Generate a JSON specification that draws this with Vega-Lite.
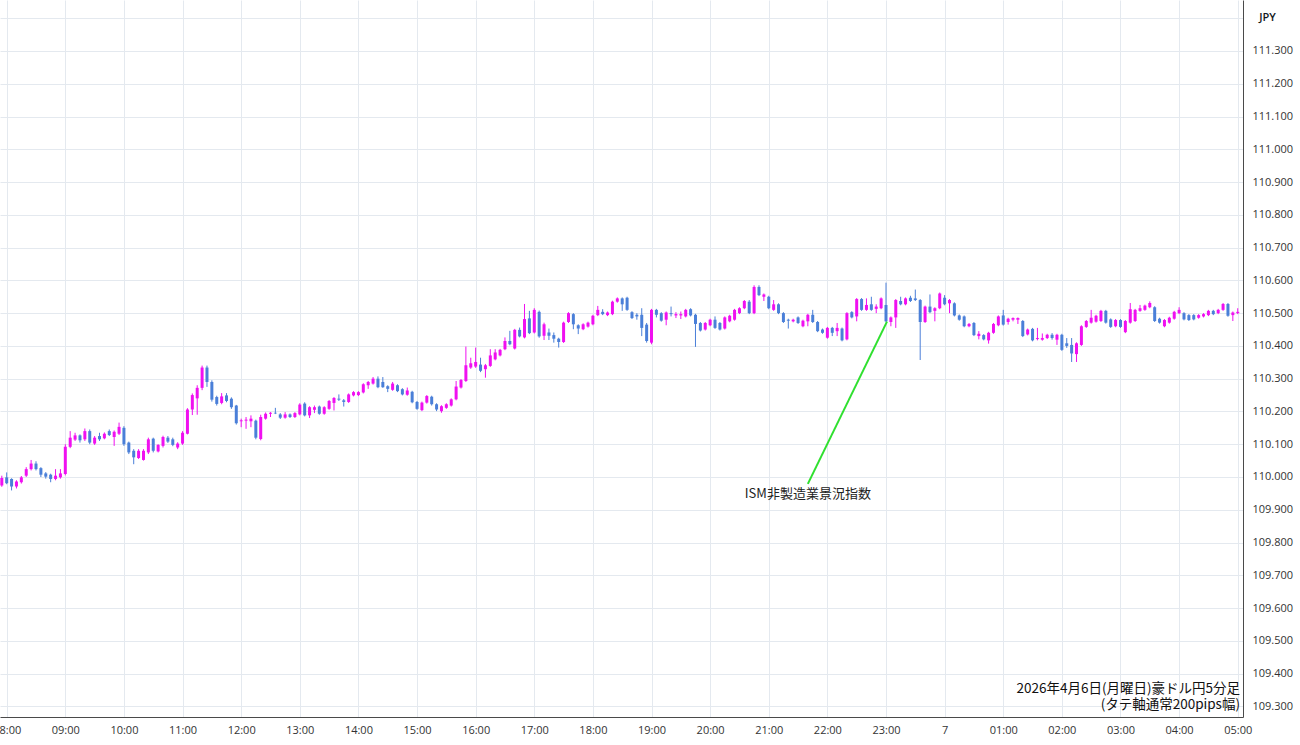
{
"$schema": "https://vega.github.io/schema/vega-lite/v6.json",
"width": 1243, "height": 717,
"autosize": {"type": "none"},
"padding": {"left": 0, "top": 0, "right": 57, "bottom": 28},
"background": "white",
"config": {
  "view": {"stroke": null},
  "axis": {"gridColor": "#e4e9ef", "gridWidth": 1, "domainColor": "#4a4a4a", "domainWidth": 1, "ticks": false, "labelFont": "Open Sans", "labelFontSize": 11, "labelColor": "#333333", "labelFlush": false, "labelOverlap": false}
},
"data": {"values": [
{"t":"2026-04-06T07:55","o":109.974,"h":110.004,"l":109.970,"c":109.997},
{"t":"2026-04-06T08:00","o":109.999,"h":110.014,"l":109.978,"c":109.981},
{"t":"2026-04-06T08:05","o":109.994,"h":109.996,"l":109.959,"c":109.971},
{"t":"2026-04-06T08:10","o":109.971,"h":109.990,"l":109.965,"c":109.986},
{"t":"2026-04-06T08:15","o":109.984,"h":110.003,"l":109.980,"c":109.999},
{"t":"2026-04-06T08:20","o":110.004,"h":110.030,"l":110.000,"c":110.024},
{"t":"2026-04-06T08:25","o":110.024,"h":110.052,"l":110.020,"c":110.041},
{"t":"2026-04-06T08:30","o":110.041,"h":110.048,"l":110.020,"c":110.024},
{"t":"2026-04-06T08:35","o":110.027,"h":110.030,"l":110.000,"c":110.007},
{"t":"2026-04-06T08:40","o":110.011,"h":110.015,"l":109.995,"c":110.001},
{"t":"2026-04-06T08:45","o":110.007,"h":110.010,"l":109.984,"c":109.994},
{"t":"2026-04-06T08:50","o":109.994,"h":110.024,"l":109.990,"c":110.004},
{"t":"2026-04-06T08:55","o":109.999,"h":110.024,"l":109.995,"c":110.011},
{"t":"2026-04-06T09:00","o":110.009,"h":110.100,"l":110.005,"c":110.092},
{"t":"2026-04-06T09:05","o":110.092,"h":110.140,"l":110.088,"c":110.120},
{"t":"2026-04-06T09:10","o":110.114,"h":110.135,"l":110.110,"c":110.127},
{"t":"2026-04-06T09:15","o":110.127,"h":110.130,"l":110.105,"c":110.112},
{"t":"2026-04-06T09:20","o":110.115,"h":110.148,"l":110.110,"c":110.140},
{"t":"2026-04-06T09:25","o":110.140,"h":110.145,"l":110.100,"c":110.105},
{"t":"2026-04-06T09:30","o":110.102,"h":110.125,"l":110.098,"c":110.120},
{"t":"2026-04-06T09:35","o":110.125,"h":110.135,"l":110.110,"c":110.115},
{"t":"2026-04-06T09:40","o":110.118,"h":110.136,"l":110.115,"c":110.132},
{"t":"2026-04-06T09:45","o":110.140,"h":110.145,"l":110.125,"c":110.128},
{"t":"2026-04-06T09:50","o":110.122,"h":110.142,"l":110.095,"c":110.138},
{"t":"2026-04-06T09:55","o":110.132,"h":110.166,"l":110.128,"c":110.153},
{"t":"2026-04-06T10:00","o":110.150,"h":110.155,"l":110.095,"c":110.100},
{"t":"2026-04-06T10:05","o":110.105,"h":110.108,"l":110.070,"c":110.075},
{"t":"2026-04-06T10:10","o":110.080,"h":110.085,"l":110.039,"c":110.060},
{"t":"2026-04-06T10:15","o":110.058,"h":110.085,"l":110.055,"c":110.080},
{"t":"2026-04-06T10:20","o":110.052,"h":110.085,"l":110.050,"c":110.080},
{"t":"2026-04-06T10:25","o":110.075,"h":110.120,"l":110.070,"c":110.115},
{"t":"2026-04-06T10:30","o":110.117,"h":110.120,"l":110.075,"c":110.080},
{"t":"2026-04-06T10:35","o":110.078,"h":110.100,"l":110.075,"c":110.098},
{"t":"2026-04-06T10:40","o":110.095,"h":110.126,"l":110.090,"c":110.122},
{"t":"2026-04-06T10:45","o":110.120,"h":110.125,"l":110.104,"c":110.108},
{"t":"2026-04-06T10:50","o":110.115,"h":110.120,"l":110.094,"c":110.098},
{"t":"2026-04-06T10:55","o":110.090,"h":110.106,"l":110.085,"c":110.102},
{"t":"2026-04-06T11:00","o":110.102,"h":110.140,"l":110.098,"c":110.135},
{"t":"2026-04-06T11:05","o":110.132,"h":110.210,"l":110.130,"c":110.206},
{"t":"2026-04-06T11:10","o":110.206,"h":110.255,"l":110.189,"c":110.250},
{"t":"2026-04-06T11:15","o":110.240,"h":110.280,"l":110.190,"c":110.272},
{"t":"2026-04-06T11:20","o":110.272,"h":110.340,"l":110.265,"c":110.334},
{"t":"2026-04-06T11:25","o":110.334,"h":110.340,"l":110.275,"c":110.290},
{"t":"2026-04-06T11:30","o":110.290,"h":110.295,"l":110.230,"c":110.236},
{"t":"2026-04-06T11:35","o":110.244,"h":110.248,"l":110.218,"c":110.223},
{"t":"2026-04-06T11:40","o":110.226,"h":110.256,"l":110.222,"c":110.246},
{"t":"2026-04-06T11:45","o":110.249,"h":110.256,"l":110.228,"c":110.232},
{"t":"2026-04-06T11:50","o":110.239,"h":110.243,"l":110.208,"c":110.213},
{"t":"2026-04-06T11:55","o":110.218,"h":110.220,"l":110.160,"c":110.164},
{"t":"2026-04-06T12:00","o":110.170,"h":110.178,"l":110.152,"c":110.173},
{"t":"2026-04-06T12:05","o":110.172,"h":110.183,"l":110.147,"c":110.175},
{"t":"2026-04-06T12:10","o":110.170,"h":110.188,"l":110.152,"c":110.178},
{"t":"2026-04-06T12:15","o":110.172,"h":110.175,"l":110.115,"c":110.120},
{"t":"2026-04-06T12:20","o":110.116,"h":110.190,"l":110.112,"c":110.183},
{"t":"2026-04-06T12:25","o":110.178,"h":110.197,"l":110.175,"c":110.193},
{"t":"2026-04-06T12:30","o":110.193,"h":110.198,"l":110.183,"c":110.196},
{"t":"2026-04-06T12:35","o":110.196,"h":110.211,"l":110.192,"c":110.194},
{"t":"2026-04-06T12:40","o":110.191,"h":110.195,"l":110.177,"c":110.181},
{"t":"2026-04-06T12:45","o":110.181,"h":110.198,"l":110.178,"c":110.191},
{"t":"2026-04-06T12:50","o":110.191,"h":110.194,"l":110.180,"c":110.183},
{"t":"2026-04-06T12:55","o":110.183,"h":110.198,"l":110.180,"c":110.195},
{"t":"2026-04-06T13:00","o":110.191,"h":110.225,"l":110.188,"c":110.221},
{"t":"2026-04-06T13:05","o":110.224,"h":110.228,"l":110.185,"c":110.188},
{"t":"2026-04-06T13:10","o":110.188,"h":110.216,"l":110.180,"c":110.213},
{"t":"2026-04-06T13:15","o":110.205,"h":110.218,"l":110.195,"c":110.213},
{"t":"2026-04-06T13:20","o":110.215,"h":110.218,"l":110.190,"c":110.193},
{"t":"2026-04-06T13:25","o":110.193,"h":110.216,"l":110.190,"c":110.213},
{"t":"2026-04-06T13:30","o":110.208,"h":110.235,"l":110.205,"c":110.232},
{"t":"2026-04-06T13:35","o":110.226,"h":110.244,"l":110.203,"c":110.241},
{"t":"2026-04-06T13:40","o":110.239,"h":110.252,"l":110.232,"c":110.236},
{"t":"2026-04-06T13:45","o":110.234,"h":110.238,"l":110.215,"c":110.229},
{"t":"2026-04-06T13:50","o":110.229,"h":110.255,"l":110.226,"c":110.252},
{"t":"2026-04-06T13:55","o":110.249,"h":110.262,"l":110.246,"c":110.259},
{"t":"2026-04-06T14:00","o":110.250,"h":110.262,"l":110.247,"c":110.259},
{"t":"2026-04-06T14:05","o":110.258,"h":110.286,"l":110.255,"c":110.283},
{"t":"2026-04-06T14:10","o":110.280,"h":110.293,"l":110.269,"c":110.290},
{"t":"2026-04-06T14:15","o":110.285,"h":110.305,"l":110.282,"c":110.300},
{"t":"2026-04-06T14:20","o":110.300,"h":110.307,"l":110.271,"c":110.274},
{"t":"2026-04-06T14:25","o":110.290,"h":110.305,"l":110.272,"c":110.274},
{"t":"2026-04-06T14:30","o":110.277,"h":110.280,"l":110.259,"c":110.269},
{"t":"2026-04-06T14:35","o":110.266,"h":110.290,"l":110.263,"c":110.285},
{"t":"2026-04-06T14:40","o":110.280,"h":110.283,"l":110.259,"c":110.262},
{"t":"2026-04-06T14:45","o":110.268,"h":110.271,"l":110.249,"c":110.252},
{"t":"2026-04-06T14:50","o":110.251,"h":110.273,"l":110.248,"c":110.264},
{"t":"2026-04-06T14:55","o":110.260,"h":110.263,"l":110.225,"c":110.228},
{"t":"2026-04-06T15:00","o":110.229,"h":110.232,"l":110.205,"c":110.208},
{"t":"2026-04-06T15:05","o":110.204,"h":110.230,"l":110.201,"c":110.227},
{"t":"2026-04-06T15:10","o":110.227,"h":110.250,"l":110.224,"c":110.247},
{"t":"2026-04-06T15:15","o":110.245,"h":110.248,"l":110.218,"c":110.222},
{"t":"2026-04-06T15:20","o":110.222,"h":110.225,"l":110.201,"c":110.206},
{"t":"2026-04-06T15:25","o":110.201,"h":110.219,"l":110.196,"c":110.216},
{"t":"2026-04-06T15:30","o":110.211,"h":110.225,"l":110.208,"c":110.222},
{"t":"2026-04-06T15:35","o":110.218,"h":110.240,"l":110.215,"c":110.237},
{"t":"2026-04-06T15:40","o":110.237,"h":110.293,"l":110.234,"c":110.276},
{"t":"2026-04-06T15:45","o":110.273,"h":110.299,"l":110.270,"c":110.296},
{"t":"2026-04-06T15:50","o":110.293,"h":110.398,"l":110.290,"c":110.341},
{"t":"2026-04-06T15:55","o":110.334,"h":110.364,"l":110.330,"c":110.347},
{"t":"2026-04-06T16:00","o":110.337,"h":110.395,"l":110.333,"c":110.351},
{"t":"2026-04-06T16:05","o":110.343,"h":110.364,"l":110.320,"c":110.324},
{"t":"2026-04-06T16:10","o":110.329,"h":110.345,"l":110.303,"c":110.341},
{"t":"2026-04-06T16:15","o":110.339,"h":110.390,"l":110.336,"c":110.371},
{"t":"2026-04-06T16:20","o":110.359,"h":110.390,"l":110.356,"c":110.380},
{"t":"2026-04-06T16:25","o":110.371,"h":110.391,"l":110.368,"c":110.388},
{"t":"2026-04-06T16:30","o":110.390,"h":110.426,"l":110.387,"c":110.415},
{"t":"2026-04-06T16:35","o":110.415,"h":110.446,"l":110.402,"c":110.405},
{"t":"2026-04-06T16:40","o":110.392,"h":110.452,"l":110.389,"c":110.449},
{"t":"2026-04-06T16:45","o":110.449,"h":110.456,"l":110.426,"c":110.429},
{"t":"2026-04-06T16:50","o":110.426,"h":110.528,"l":110.423,"c":110.482},
{"t":"2026-04-06T16:55","o":110.484,"h":110.507,"l":110.436,"c":110.439},
{"t":"2026-04-06T17:00","o":110.441,"h":110.515,"l":110.438,"c":110.510},
{"t":"2026-04-06T17:05","o":110.504,"h":110.508,"l":110.425,"c":110.429},
{"t":"2026-04-06T17:10","o":110.431,"h":110.471,"l":110.418,"c":110.466},
{"t":"2026-04-06T17:15","o":110.441,"h":110.453,"l":110.418,"c":110.431},
{"t":"2026-04-06T17:20","o":110.433,"h":110.441,"l":110.410,"c":110.422},
{"t":"2026-04-06T17:25","o":110.422,"h":110.425,"l":110.395,"c":110.412},
{"t":"2026-04-06T17:30","o":110.412,"h":110.474,"l":110.409,"c":110.471},
{"t":"2026-04-06T17:35","o":110.473,"h":110.503,"l":110.470,"c":110.500},
{"t":"2026-04-06T17:40","o":110.497,"h":110.500,"l":110.451,"c":110.466},
{"t":"2026-04-06T17:45","o":110.463,"h":110.466,"l":110.436,"c":110.453},
{"t":"2026-04-06T17:50","o":110.451,"h":110.469,"l":110.448,"c":110.466},
{"t":"2026-04-06T17:55","o":110.459,"h":110.474,"l":110.456,"c":110.471},
{"t":"2026-04-06T18:00","o":110.466,"h":110.495,"l":110.463,"c":110.492},
{"t":"2026-04-06T18:05","o":110.494,"h":110.522,"l":110.491,"c":110.510},
{"t":"2026-04-06T18:10","o":110.504,"h":110.512,"l":110.494,"c":110.497},
{"t":"2026-04-06T18:15","o":110.494,"h":110.505,"l":110.491,"c":110.502},
{"t":"2026-04-06T18:20","o":110.497,"h":110.538,"l":110.494,"c":110.535},
{"t":"2026-04-06T18:25","o":110.535,"h":110.548,"l":110.532,"c":110.545},
{"t":"2026-04-06T18:30","o":110.545,"h":110.548,"l":110.507,"c":110.527},
{"t":"2026-04-06T18:35","o":110.547,"h":110.550,"l":110.507,"c":110.510},
{"t":"2026-04-06T18:40","o":110.503,"h":110.506,"l":110.482,"c":110.485},
{"t":"2026-04-06T18:45","o":110.495,"h":110.500,"l":110.480,"c":110.490},
{"t":"2026-04-06T18:50","o":110.495,"h":110.515,"l":110.430,"c":110.455},
{"t":"2026-04-06T18:55","o":110.465,"h":110.470,"l":110.410,"c":110.415},
{"t":"2026-04-06T19:00","o":110.410,"h":110.513,"l":110.405,"c":110.510},
{"t":"2026-04-06T19:05","o":110.510,"h":110.513,"l":110.487,"c":110.495},
{"t":"2026-04-06T19:10","o":110.500,"h":110.503,"l":110.474,"c":110.477},
{"t":"2026-04-06T19:15","o":110.480,"h":110.505,"l":110.463,"c":110.502},
{"t":"2026-04-06T19:20","o":110.500,"h":110.520,"l":110.490,"c":110.497},
{"t":"2026-04-06T19:25","o":110.493,"h":110.503,"l":110.485,"c":110.497},
{"t":"2026-04-06T19:30","o":110.493,"h":110.505,"l":110.482,"c":110.497},
{"t":"2026-04-06T19:35","o":110.490,"h":110.513,"l":110.487,"c":110.510},
{"t":"2026-04-06T19:40","o":110.512,"h":110.515,"l":110.490,"c":110.493},
{"t":"2026-04-06T19:45","o":110.495,"h":110.498,"l":110.397,"c":110.467},
{"t":"2026-04-06T19:50","o":110.470,"h":110.473,"l":110.444,"c":110.447},
{"t":"2026-04-06T19:55","o":110.450,"h":110.473,"l":110.447,"c":110.470},
{"t":"2026-04-06T20:00","o":110.463,"h":110.483,"l":110.460,"c":110.480},
{"t":"2026-04-06T20:05","o":110.480,"h":110.490,"l":110.452,"c":110.455},
{"t":"2026-04-06T20:10","o":110.470,"h":110.473,"l":110.447,"c":110.450},
{"t":"2026-04-06T20:15","o":110.453,"h":110.490,"l":110.450,"c":110.487},
{"t":"2026-04-06T20:20","o":110.475,"h":110.495,"l":110.472,"c":110.492},
{"t":"2026-04-06T20:25","o":110.480,"h":110.513,"l":110.477,"c":110.510},
{"t":"2026-04-06T20:30","o":110.500,"h":110.518,"l":110.497,"c":110.515},
{"t":"2026-04-06T20:35","o":110.515,"h":110.540,"l":110.512,"c":110.537},
{"t":"2026-04-06T20:40","o":110.535,"h":110.540,"l":110.497,"c":110.500},
{"t":"2026-04-06T20:45","o":110.500,"h":110.585,"l":110.497,"c":110.580},
{"t":"2026-04-06T20:50","o":110.580,"h":110.585,"l":110.552,"c":110.555},
{"t":"2026-04-06T20:55","o":110.550,"h":110.560,"l":110.537,"c":110.557},
{"t":"2026-04-06T21:00","o":110.550,"h":110.553,"l":110.512,"c":110.515},
{"t":"2026-04-06T21:05","o":110.510,"h":110.540,"l":110.507,"c":110.527},
{"t":"2026-04-06T21:10","o":110.527,"h":110.530,"l":110.497,"c":110.500},
{"t":"2026-04-06T21:15","o":110.500,"h":110.503,"l":110.470,"c":110.473},
{"t":"2026-04-06T21:20","o":110.480,"h":110.483,"l":110.453,"c":110.477},
{"t":"2026-04-06T21:25","o":110.475,"h":110.483,"l":110.472,"c":110.480},
{"t":"2026-04-06T21:30","o":110.487,"h":110.490,"l":110.467,"c":110.470},
{"t":"2026-04-06T21:35","o":110.460,"h":110.480,"l":110.457,"c":110.477},
{"t":"2026-04-06T21:40","o":110.475,"h":110.498,"l":110.460,"c":110.495},
{"t":"2026-04-06T21:45","o":110.495,"h":110.510,"l":110.470,"c":110.473},
{"t":"2026-04-06T21:50","o":110.473,"h":110.476,"l":110.442,"c":110.445},
{"t":"2026-04-06T21:55","o":110.450,"h":110.453,"l":110.437,"c":110.440},
{"t":"2026-04-06T22:00","o":110.425,"h":110.458,"l":110.422,"c":110.455},
{"t":"2026-04-06T22:05","o":110.455,"h":110.458,"l":110.430,"c":110.440},
{"t":"2026-04-06T22:10","o":110.445,"h":110.470,"l":110.430,"c":110.455},
{"t":"2026-04-06T22:15","o":110.453,"h":110.456,"l":110.414,"c":110.417},
{"t":"2026-04-06T22:20","o":110.420,"h":110.503,"l":110.417,"c":110.500},
{"t":"2026-04-06T22:25","o":110.503,"h":110.506,"l":110.484,"c":110.487},
{"t":"2026-04-06T22:30","o":110.490,"h":110.546,"l":110.475,"c":110.543},
{"t":"2026-04-06T22:35","o":110.543,"h":110.546,"l":110.507,"c":110.510},
{"t":"2026-04-06T22:40","o":110.510,"h":110.545,"l":110.507,"c":110.525},
{"t":"2026-04-06T22:45","o":110.527,"h":110.550,"l":110.507,"c":110.510},
{"t":"2026-04-06T22:50","o":110.513,"h":110.527,"l":110.500,"c":110.520},
{"t":"2026-04-06T22:55","o":110.515,"h":110.548,"l":110.512,"c":110.545},
{"t":"2026-04-06T23:00","o":110.525,"h":110.593,"l":110.472,"c":110.475},
{"t":"2026-04-06T23:05","o":110.473,"h":110.490,"l":110.460,"c":110.487},
{"t":"2026-04-06T23:10","o":110.487,"h":110.543,"l":110.455,"c":110.540},
{"t":"2026-04-06T23:15","o":110.537,"h":110.550,"l":110.524,"c":110.527},
{"t":"2026-04-06T23:20","o":110.527,"h":110.548,"l":110.524,"c":110.545},
{"t":"2026-04-06T23:25","o":110.547,"h":110.553,"l":110.534,"c":110.537},
{"t":"2026-04-06T23:30","o":110.545,"h":110.572,"l":110.537,"c":110.540},
{"t":"2026-04-06T23:35","o":110.540,"h":110.543,"l":110.357,"c":110.473},
{"t":"2026-04-06T23:40","o":110.473,"h":110.523,"l":110.470,"c":110.520},
{"t":"2026-04-06T23:45","o":110.520,"h":110.557,"l":110.500,"c":110.503},
{"t":"2026-04-06T23:50","o":110.507,"h":110.518,"l":110.475,"c":110.515},
{"t":"2026-04-06T23:55","o":110.515,"h":110.563,"l":110.512,"c":110.560},
{"t":"2026-04-07T00:00","o":110.547,"h":110.555,"l":110.524,"c":110.527},
{"t":"2026-04-07T00:05","o":110.530,"h":110.543,"l":110.500,"c":110.540},
{"t":"2026-04-07T00:10","o":110.530,"h":110.533,"l":110.490,"c":110.493},
{"t":"2026-04-07T00:15","o":110.493,"h":110.496,"l":110.477,"c":110.480},
{"t":"2026-04-07T00:20","o":110.490,"h":110.493,"l":110.457,"c":110.460},
{"t":"2026-04-07T00:25","o":110.460,"h":110.470,"l":110.457,"c":110.467},
{"t":"2026-04-07T00:30","o":110.470,"h":110.473,"l":110.430,"c":110.433},
{"t":"2026-04-07T00:35","o":110.430,"h":110.445,"l":110.420,"c":110.437},
{"t":"2026-04-07T00:40","o":110.433,"h":110.436,"l":110.417,"c":110.420},
{"t":"2026-04-07T00:45","o":110.417,"h":110.443,"l":110.407,"c":110.440},
{"t":"2026-04-07T00:50","o":110.440,"h":110.470,"l":110.437,"c":110.467},
{"t":"2026-04-07T00:55","o":110.463,"h":110.493,"l":110.460,"c":110.490},
{"t":"2026-04-07T01:00","o":110.493,"h":110.510,"l":110.462,"c":110.465},
{"t":"2026-04-07T01:05","o":110.473,"h":110.486,"l":110.465,"c":110.483},
{"t":"2026-04-07T01:10","o":110.480,"h":110.487,"l":110.475,"c":110.485},
{"t":"2026-04-07T01:15","o":110.480,"h":110.487,"l":110.467,"c":110.485},
{"t":"2026-04-07T01:20","o":110.476,"h":110.479,"l":110.427,"c":110.430},
{"t":"2026-04-07T01:25","o":110.435,"h":110.453,"l":110.432,"c":110.450},
{"t":"2026-04-07T01:30","o":110.452,"h":110.455,"l":110.414,"c":110.417},
{"t":"2026-04-07T01:35","o":110.421,"h":110.455,"l":110.417,"c":110.424},
{"t":"2026-04-07T01:40","o":110.419,"h":110.438,"l":110.416,"c":110.424},
{"t":"2026-04-07T01:45","o":110.424,"h":110.437,"l":110.421,"c":110.434},
{"t":"2026-04-07T01:50","o":110.434,"h":110.439,"l":110.419,"c":110.424},
{"t":"2026-04-07T01:55","o":110.419,"h":110.437,"l":110.403,"c":110.434},
{"t":"2026-04-07T02:00","o":110.434,"h":110.437,"l":110.385,"c":110.388},
{"t":"2026-04-07T02:05","o":110.408,"h":110.424,"l":110.394,"c":110.400},
{"t":"2026-04-07T02:10","o":110.403,"h":110.424,"l":110.351,"c":110.377},
{"t":"2026-04-07T02:15","o":110.375,"h":110.411,"l":110.351,"c":110.408},
{"t":"2026-04-07T02:20","o":110.403,"h":110.463,"l":110.400,"c":110.460},
{"t":"2026-04-07T02:25","o":110.458,"h":110.479,"l":110.455,"c":110.476},
{"t":"2026-04-07T02:30","o":110.471,"h":110.510,"l":110.468,"c":110.486},
{"t":"2026-04-07T02:35","o":110.474,"h":110.495,"l":110.471,"c":110.492},
{"t":"2026-04-07T02:40","o":110.476,"h":110.510,"l":110.473,"c":110.507},
{"t":"2026-04-07T02:45","o":110.507,"h":110.510,"l":110.468,"c":110.471},
{"t":"2026-04-07T02:50","o":110.481,"h":110.484,"l":110.455,"c":110.458},
{"t":"2026-04-07T02:55","o":110.460,"h":110.482,"l":110.457,"c":110.479},
{"t":"2026-04-07T03:00","o":110.479,"h":110.482,"l":110.455,"c":110.458},
{"t":"2026-04-07T03:05","o":110.442,"h":110.479,"l":110.439,"c":110.476},
{"t":"2026-04-07T03:10","o":110.471,"h":110.531,"l":110.468,"c":110.512},
{"t":"2026-04-07T03:15","o":110.476,"h":110.513,"l":110.473,"c":110.510},
{"t":"2026-04-07T03:20","o":110.507,"h":110.525,"l":110.504,"c":110.515},
{"t":"2026-04-07T03:25","o":110.510,"h":110.526,"l":110.507,"c":110.523},
{"t":"2026-04-07T03:30","o":110.518,"h":110.536,"l":110.515,"c":110.531},
{"t":"2026-04-07T03:35","o":110.518,"h":110.521,"l":110.473,"c":110.476},
{"t":"2026-04-07T03:40","o":110.483,"h":110.486,"l":110.468,"c":110.471},
{"t":"2026-04-07T03:45","o":110.460,"h":110.482,"l":110.457,"c":110.479},
{"t":"2026-04-07T03:50","o":110.471,"h":110.489,"l":110.468,"c":110.486},
{"t":"2026-04-07T03:55","o":110.483,"h":110.507,"l":110.480,"c":110.504},
{"t":"2026-04-07T04:00","o":110.500,"h":110.518,"l":110.497,"c":110.510},
{"t":"2026-04-07T04:05","o":110.500,"h":110.503,"l":110.478,"c":110.481},
{"t":"2026-04-07T04:10","o":110.494,"h":110.497,"l":110.476,"c":110.479},
{"t":"2026-04-07T04:15","o":110.494,"h":110.497,"l":110.478,"c":110.481},
{"t":"2026-04-07T04:20","o":110.486,"h":110.497,"l":110.483,"c":110.494},
{"t":"2026-04-07T04:25","o":110.490,"h":110.500,"l":110.487,"c":110.497},
{"t":"2026-04-07T04:30","o":110.494,"h":110.510,"l":110.491,"c":110.507},
{"t":"2026-04-07T04:35","o":110.507,"h":110.510,"l":110.494,"c":110.497},
{"t":"2026-04-07T04:40","o":110.500,"h":110.513,"l":110.497,"c":110.510},
{"t":"2026-04-07T04:45","o":110.510,"h":110.531,"l":110.507,"c":110.528},
{"t":"2026-04-07T04:50","o":110.528,"h":110.531,"l":110.489,"c":110.492},
{"t":"2026-04-07T04:55","o":110.494,"h":110.505,"l":110.476,"c":110.502},
{"t":"2026-04-07T05:00","o":110.500,"h":110.515,"l":110.497,"c":110.504}
]},
"layer": [
  {
    "mark": {"type": "rule", "strokeWidth": 1},
    "encoding": {
      "x": {"field": "t", "type": "temporal",
        "scale": {"domain": [{"year": 2026, "month": 4, "date": 6, "hours": 7, "minutes": 53, "seconds": 9}, {"year": 2026, "month": 4, "date": 7, "hours": 5, "minutes": 5, "seconds": 24}], "nice": false, "padding": 0},
        "axis": {"orient": "bottom", "title": null, "labelPadding": 7, "grid": true, "labelOverlap": false, "labelFlush": false, "tickCount": 40,
          "values": [
            {"year": 2026, "month": 4, "date": 6, "hours": 8},
            {"year": 2026, "month": 4, "date": 6, "hours": 9},
            {"year": 2026, "month": 4, "date": 6, "hours": 10},
            {"year": 2026, "month": 4, "date": 6, "hours": 11},
            {"year": 2026, "month": 4, "date": 6, "hours": 12},
            {"year": 2026, "month": 4, "date": 6, "hours": 13},
            {"year": 2026, "month": 4, "date": 6, "hours": 14},
            {"year": 2026, "month": 4, "date": 6, "hours": 15},
            {"year": 2026, "month": 4, "date": 6, "hours": 16},
            {"year": 2026, "month": 4, "date": 6, "hours": 17},
            {"year": 2026, "month": 4, "date": 6, "hours": 18},
            {"year": 2026, "month": 4, "date": 6, "hours": 19},
            {"year": 2026, "month": 4, "date": 6, "hours": 20},
            {"year": 2026, "month": 4, "date": 6, "hours": 21},
            {"year": 2026, "month": 4, "date": 6, "hours": 22},
            {"year": 2026, "month": 4, "date": 6, "hours": 23},
            {"year": 2026, "month": 4, "date": 7, "hours": 0},
            {"year": 2026, "month": 4, "date": 7, "hours": 1},
            {"year": 2026, "month": 4, "date": 7, "hours": 2},
            {"year": 2026, "month": 4, "date": 7, "hours": 3},
            {"year": 2026, "month": 4, "date": 7, "hours": 4},
            {"year": 2026, "month": 4, "date": 7, "hours": 5}
          ],
          "labelExpr": "hours(datum.value) == 0 ? '7' : timeFormat(datum.value, '%H:%M')"}},
      "y": {"field": "l", "type": "quantitative",
        "scale": {"domain": [109.2676, 111.4556], "nice": false, "zero": false, "padding": 0},
        "axis": {"orient": "right", "grid": true, "labelPadding": 9, "labelOverlap": false, "labelFlush": false, "tickCount": 40,
          "values": [109.3, 109.4, 109.5, 109.6, 109.7, 109.8, 109.9, 110.0, 110.1, 110.2, 110.3, 110.4, 110.5, 110.6, 110.7, 110.8, 110.9, 111.0, 111.1, 111.2, 111.3, 111.4],
          "labelExpr": "datum.value > 111.35 ? '' : format(datum.value, '.3f')",
          "title": "JPY", "titleAngle": 0, "titleX": 24, "titleY": 17, "titleAlign": "center", "titleBaseline": "middle",
          "titleFont": "Open Sans", "titleFontSize": 11, "titleFontWeight": 600, "titleColor": "#131722"}},
      "y2": {"field": "h"},
      "color": {"condition": {"test": "datum.c >= datum.o", "value": "#f010f0"}, "value": "#4a7fd8"}
    }
  },
  {
    "mark": {"type": "bar", "size": 3},
    "encoding": {
      "x": {"field": "t", "type": "temporal"},
      "y": {"field": "o", "type": "quantitative"},
      "y2": {"field": "c"},
      "color": {"condition": {"test": "datum.c >= datum.o", "value": "#f010f0"}, "value": "#4a7fd8"}
    }
  },
  {
    "data": {"values": [{}]},
    "mark": {"type": "rule", "color": "#2fe02f", "strokeWidth": 2},
    "encoding": {
      "x": {"datum": {"year": 2026, "month": 4, "date": 6, "hours": 21, "minutes": 40}, "type": "temporal"},
      "y": {"datum": 109.979, "type": "quantitative"},
      "x2": {"datum": {"year": 2026, "month": 4, "date": 6, "hours": 23, "minutes": 1}},
      "y2": {"datum": 110.474}
    }
  },
  {
    "data": {"values": [{}]},
    "mark": {"type": "text", "text": "ISM非製造業景況指数", "font": "Noto Sans CJK JP", "fontSize": 13, "color": "#222222", "align": "center", "baseline": "middle"},
    "encoding": {
      "x": {"datum": {"year": 2026, "month": 4, "date": 6, "hours": 21, "minutes": 40}, "type": "temporal"},
      "y": {"datum": 109.948, "type": "quantitative"}
    }
  },
  {
    "data": {"values": [{}]},
    "mark": {"type": "text", "text": "2026年4月6日(月曜日)豪ドル円5分足", "font": "Noto Sans CJK JP", "fontSize": 13.5, "color": "#111111", "align": "right", "baseline": "middle"},
    "encoding": {
      "x": {"datum": {"year": 2026, "month": 4, "date": 7, "hours": 5, "minutes": 2, "seconds": 20}, "type": "temporal"},
      "y": {"datum": 109.352, "type": "quantitative"}
    }
  },
  {
    "data": {"values": [{}]},
    "mark": {"type": "text", "text": "(タテ軸通常200pips幅)", "font": "Noto Sans CJK JP", "fontSize": 13.5, "color": "#111111", "align": "right", "baseline": "middle"},
    "encoding": {
      "x": {"datum": {"year": 2026, "month": 4, "date": 7, "hours": 5, "minutes": 2, "seconds": 20}, "type": "temporal"},
      "y": {"datum": 109.304, "type": "quantitative"}
    }
  }
]
}
